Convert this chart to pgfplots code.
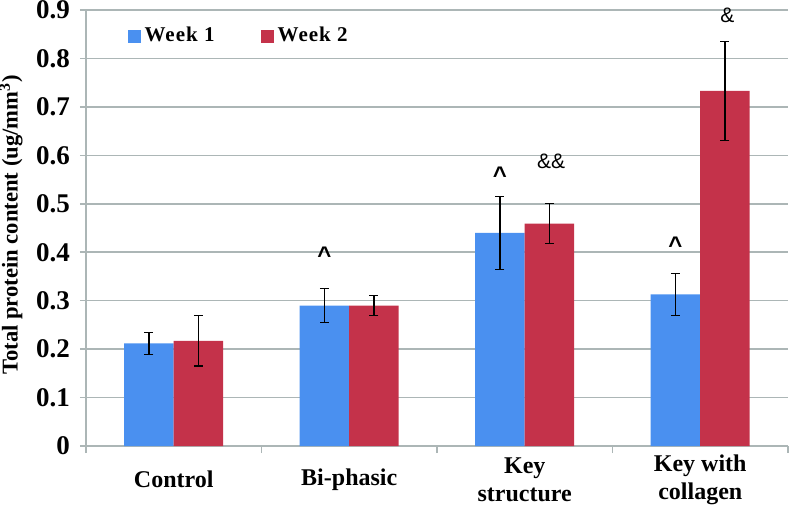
\documentclass[border=0pt]{standalone}
\usepackage{pgfplots}
\pgfplotsset{compat=1.18}
\usepackage{pgfplotstable}
\usepackage{fontspec}
\setmainfont{Liberation Serif}
\newfontfamily\annfont{Liberation Sans}
\newfontfamily\legfont[LetterSpace=5]{Liberation Serif}
\definecolor{wkone}{RGB}{74,144,240}
\definecolor{wktwo}{RGB}{196,50,74}
\definecolor{gridc}{RGB}{172,182,182}
\pgfplotstableread{
x w1 e1 w2 e2
0 0.212 0.023 0.217 0.052
1 0.290 0.035 0.290 0.020
2 0.440 0.075 0.459 0.041
3 0.313 0.043 0.733 0.102
}\datatab
\begin{document}
\begin{tikzpicture}
\useasboundingbox (-43pt,-32pt) rectangle (353pt,223pt);
\begin{axis}[
  scale only axis,
  width=351pt, height=218pt,
  xmin=-0.5, xmax=3.5, ymin=0, ymax=0.9,
  ybar=0pt, bar width=24.75pt,
  axis x line*=bottom, axis y line*=left,
  axis line style={gridc, line width=0.8pt, -},
  xtick={0,1,2,3},
  xticklabels={Control, Bi-phasic, {Key\\structure}, {Key with\\collagen}},
  major x tick style={draw=none},
  minor xtick={-0.5,0.5,1.5,2.5,3.5},
  minor x tick style={gridc, line width=0.8pt},
  minor tick length=3.5pt,
  tick align=outside,
  major tick length=3pt,
  ytick={0,0.1,0.2,0.3,0.4,0.5,0.6,0.7,0.8,0.9},
  yticklabels={0,0.1,0.2,0.3,0.4,0.5,0.6,0.7,0.8,0.9},
  y tick style={gridc, line width=0.8pt},
  ymajorgrids, major grid style={gridc, line width=0.8pt},
  yticklabel style={font=\bfseries\fontsize{13.5}{16}\selectfont, xshift=-1.5pt},
  xticklabel style={font=\bfseries\fontsize{12}{14}\selectfont, align=center, anchor=center, yshift=-13.8pt},
  ylabel={Total protein content (ug/mm\textsuperscript{3})},
  ylabel style={font=\bfseries\fontsize{11.3}{13}\selectfont, at={(rel axis cs:0,0.5)}, anchor=center, yshift=37.5pt, xshift=1.5pt},
  ybar legend/.style={legend image code/.code={\fill[##1] (0pt,-3.2pt) rectangle (6.5pt,3.2pt);}},
  legend image code/.code={\fill[#1] (0pt,-3.2pt) rectangle (6.5pt,3.2pt);},
  legend style={draw=none, fill=none, at={(0.05,0.94)}, anchor=west, legend columns=2,
    font=\legfont\bfseries\fontsize{10.5}{12}\selectfont,
    /tikz/every even column/.append style={column sep=21pt}},
  legend cell align=left,
  clip=false,
  error bars/y dir=both, error bars/y explicit,
  error bars/error bar style={black, line width=0.6pt},
  error bars/error mark options={black, rotate=90, mark size=2.25pt, line width=0.6pt},
]
\addplot[fill=wkone, draw=none] table[x=x, y=w1, y error=e1] {\datatab};
\addplot[fill=wktwo, draw=none] table[x=x, y=w2, y error=e2] {\datatab};
\legend{Week 1, Week 2}
\node[font=\annfont\bfseries\fontsize{12}{14}\selectfont, yshift=-2pt] at (axis cs:0.859,0.403) {\textasciicircum};
\node[font=\annfont\bfseries\fontsize{12}{14}\selectfont, yshift=-2pt] at (axis cs:1.859,0.568) {\textasciicircum};
\node[font=\annfont\bfseries\fontsize{12}{14}\selectfont, yshift=-2pt] at (axis cs:2.859,0.423) {\textasciicircum};
\node[font=\annfont\fontsize{10.5}{12}\selectfont] at (axis cs:2.15,0.588) {\&\&};
\node[font=\annfont\fontsize{10.5}{12}\selectfont] at (axis cs:3.155,0.888) {\&};
\end{axis}
\end{tikzpicture}
\end{document}
